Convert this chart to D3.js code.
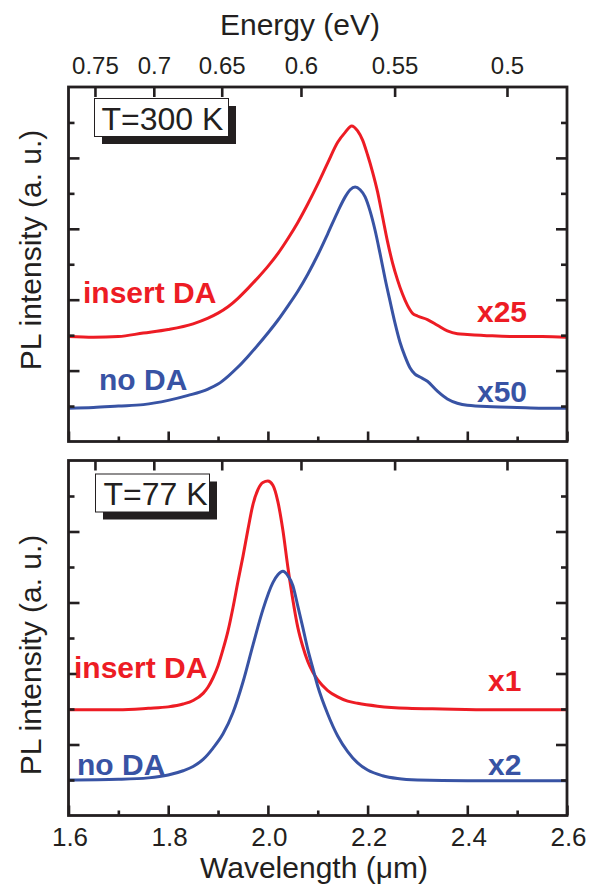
<!DOCTYPE html>
<html>
<head>
<meta charset="utf-8">
<script src="https://cdn.jsdelivr.net/npm/d3@7"></script>
<style>
  html, body { margin: 0; padding: 0; background: #fff; }
  svg { display: block; }
  text { font-family: "Liberation Sans", Arial, Helvetica, sans-serif; fill: #231f20; }
</style>
</head>
<body>
<svg id="chart" width="596" height="886"></svg>
<script>
// ---------------- DATA ----------------
// Wavelength ticks (µm)
const wavelengthMajor = [1.6, 1.8, 2.0, 2.2, 2.4, 2.6];
const wavelengthMinor = [1.7, 1.9, 2.1, 2.3, 2.5];
// Energy ticks (eV) on the top axis
const energyTicks = [0.75, 0.7, 0.65, 0.6, 0.55, 0.5];
const energyLabels = ["0.75", "0.7", "0.65", "0.6", "0.55", "0.5"];
// Intensity ticks (a. u.)
const intensityMajor = [1, 2, 3, 4];
const intensityMinor = [0.5, 1.5, 2.5, 3.5, 4.5];

// T = 300 K, insert DA (x25)
const rtInsertWl = [1.60,1.65,1.70,1.75,1.80,1.85,1.88,1.90,1.92,1.94,1.96,1.98,2.00,2.02,2.04,2.06,2.08,2.10,2.12,2.14,2.155,2.168,2.18,2.19,2.20,2.21,2.22,2.23,2.24,2.25,2.26,2.27,2.28,2.29,2.30,2.32,2.34,2.36,2.38,2.40,2.45,2.50,2.55,2.60];
const rtInsertPL = [1.48,1.47,1.48,1.53,1.58,1.66,1.74,1.81,1.90,2.02,2.16,2.31,2.47,2.65,2.86,3.09,3.35,3.63,3.93,4.22,4.36,4.45,4.38,4.25,4.04,3.80,3.52,3.17,2.82,2.52,2.28,2.08,1.92,1.81,1.77,1.72,1.64,1.56,1.52,1.51,1.49,1.48,1.48,1.47];
// T = 300 K, no DA (x50)
const rtNoWl = [1.60,1.65,1.70,1.75,1.80,1.84,1.88,1.90,1.92,1.94,1.96,1.98,2.00,2.02,2.04,2.06,2.08,2.10,2.12,2.14,2.155,2.165,2.175,2.185,2.195,2.205,2.215,2.225,2.235,2.245,2.255,2.265,2.275,2.285,2.295,2.305,2.32,2.34,2.36,2.38,2.40,2.45,2.50,2.55,2.60];
const rtNoPL = [0.47,0.48,0.50,0.52,0.58,0.65,0.74,0.81,0.92,1.05,1.20,1.36,1.53,1.71,1.91,2.12,2.36,2.63,2.93,3.24,3.45,3.55,3.59,3.55,3.45,3.25,2.98,2.65,2.30,1.98,1.67,1.40,1.20,1.04,0.95,0.91,0.85,0.71,0.60,0.54,0.51,0.49,0.48,0.47,0.47];

// T = 77 K, insert DA (x1)
const ltInsertWl = [1.60,1.70,1.76,1.80,1.83,1.85,1.87,1.88,1.89,1.90,1.91,1.92,1.93,1.94,1.95,1.96,1.97,1.98,1.99,2.00,2.01,2.02,2.03,2.04,2.05,2.06,2.07,2.08,2.09,2.10,2.12,2.14,2.16,2.18,2.22,2.28,2.35,2.45,2.60];
const ltInsertPL = [1.49,1.49,1.51,1.53,1.57,1.62,1.72,1.81,1.94,2.11,2.34,2.60,2.93,3.30,3.65,4.03,4.38,4.59,4.69,4.71,4.65,4.42,4.02,3.50,3.04,2.65,2.38,2.17,2.02,1.91,1.76,1.67,1.61,1.58,1.54,1.51,1.50,1.49,1.49];
// T = 77 K, no DA (x2)
const ltNoWl = [1.60,1.70,1.76,1.80,1.83,1.85,1.87,1.89,1.91,1.93,1.95,1.97,1.99,2.01,2.02,2.03,2.04,2.05,2.06,2.07,2.08,2.09,2.10,2.12,2.14,2.16,2.18,2.20,2.23,2.26,2.30,2.40,2.60];
const ltNoPL = [0.50,0.51,0.53,0.57,0.63,0.69,0.79,0.95,1.15,1.45,1.88,2.40,2.90,3.28,3.39,3.44,3.38,3.24,2.95,2.65,2.34,2.08,1.82,1.43,1.12,0.90,0.74,0.64,0.56,0.52,0.50,0.49,0.49];

// ---------------- DRAW ----------------
const RED = "#ed1c24", BLUE = "#3853a4", INK = "#231f20";
const svg = d3.select("#chart");
const x = d3.scaleLinear().domain([1.6, 2.6]).range([68.5, 567]);
const HC = 1.2398; // eV·µm

const panels = [
  { top: 87, bottom: 441.5, temp: "T=300 K", energyLabels: true, wlLabels: false,
    box: {x: 94.5, y: 98.5, w: 134, h: 38, tx: 101.5, ty: 130},
    ylabelY: 250,
    series: [
      { wl: rtInsertWl, pl: rtInsertPL, color: RED, name: "insert DA", nx: 83, ny: 303, factor: "x25", fx: 477, fy: 322 },
      { wl: rtNoWl, pl: rtNoPL, color: BLUE, name: "no DA", nx: 99, ny: 390, factor: "x50", fx: 477, fy: 402 }
    ]},
  { top: 460.5, bottom: 815.5, temp: "T=77 K", energyLabels: false, wlLabels: true,
    box: {x: 95.5, y: 474, w: 114, h: 38, tx: 103.5, ty: 505},
    ylabelY: 655,
    series: [
      { wl: ltInsertWl, pl: ltInsertPL, color: RED, name: "insert DA", nx: 74, ny: 678, factor: "x1", fx: 488, fy: 691 },
      { wl: ltNoWl, pl: ltNoPL, color: BLUE, name: "no DA", nx: 77, ny: 775, factor: "x2", fx: 488, fy: 775 }
    ]}
];

function styleAxis(g) {
  g.select(".domain").remove();
  g.selectAll(".tick line").attr("stroke", INK).attr("stroke-width", 2.6);
}

panels.forEach(p => {
  const y = d3.scaleLinear().domain([0, 5]).range([p.bottom, p.top]);
  const g = svg.append("g");

  // curves
  const line = d3.line().x(d => x(d[0])).y(d => y(d[1])).curve(d3.curveMonotoneX);
  p.series.forEach(s => {
    g.append("path")
      .datum(s.wl.map((w, i) => [w, s.pl[i]]))
      .attr("fill", "none").attr("stroke", s.color).attr("stroke-width", 3)
      .attr("stroke-linejoin", "round")
      .attr("d", line);
  });

  // bottom wavelength ticks
  const bMaj = g.append("g").attr("transform", `translate(0,${p.bottom})`)
    .call(d3.axisBottom(x).tickValues(wavelengthMajor).tickSize(-10)
      .tickFormat(p.wlLabels ? d3.format(".1f") : () => ""));
  styleAxis(bMaj);
  bMaj.selectAll("text").attr("y", 30).attr("dy", 0).attr("x", 1)
    .style("font-size", "26px").style("fill", INK);
  const bMin = g.append("g").attr("transform", `translate(0,${p.bottom})`)
    .call(d3.axisBottom(x).tickValues(wavelengthMinor).tickSize(-5).tickFormat(() => ""));
  styleAxis(bMin);

  // top energy ticks
  const tAx = g.append("g").attr("transform", `translate(0,${p.top})`)
    .call(d3.axisTop(x).tickValues(energyTicks.map(e => HC / e)).tickSize(-10)
      .tickFormat((d, i) => p.energyLabels ? energyLabels[i] : ""));
  styleAxis(tAx);
  tAx.selectAll("text").attr("y", -13).attr("dy", 0)
    .style("font-size", "24px").style("fill", INK);

  // left / right intensity ticks
  [[d3.axisLeft, x.range()[0], -11, -6], [d3.axisRight, x.range()[1], -11, -6]].forEach(([ax, pos, maj, min]) => {
    const a1 = g.append("g").attr("transform", `translate(${pos},0)`)
      .call(ax(y).tickValues(intensityMajor).tickSize(maj).tickFormat(() => ""));
    styleAxis(a1);
    const a2 = g.append("g").attr("transform", `translate(${pos},0)`)
      .call(ax(y).tickValues(intensityMinor).tickSize(min).tickFormat(() => ""));
    styleAxis(a2);
  });

  // frame
  g.append("rect").attr("x", x.range()[0]).attr("y", p.top)
    .attr("width", x.range()[1] - x.range()[0]).attr("height", p.bottom - p.top)
    .attr("fill", "none").attr("stroke", INK).attr("stroke-width", 2.8);

  // temperature box with shadow
  g.append("rect").attr("x", p.box.x + 7.5).attr("y", p.box.y + 7.5)
    .attr("width", p.box.w).attr("height", p.box.h).attr("fill", INK);
  g.append("rect").attr("x", p.box.x).attr("y", p.box.y)
    .attr("width", p.box.w).attr("height", p.box.h).attr("fill", "#fff")
    .attr("stroke", INK).attr("stroke-width", 1);
  g.append("text").attr("x", p.box.tx).attr("y", p.box.ty)
    .style("font-size", "32px").text(p.temp);

  // series labels
  p.series.forEach(s => {
    g.append("text").attr("x", s.nx).attr("y", s.ny)
      .style("font-size", "30px").style("font-weight", "bold").style("fill", s.color).text(s.name);
    g.append("text").attr("x", s.fx).attr("y", s.fy)
      .style("font-size", "30px").style("font-weight", "bold").style("fill", s.color).text(s.factor);
  });

  // y label
  svg.append("text")
    .attr("transform", `translate(41,${p.ylabelY}) rotate(-90)`)
    .attr("text-anchor", "middle")
    .style("font-size", "30px").text("PL intensity (a. u.)");
});

// axis titles
svg.append("text").attr("x", 300).attr("y", 35).attr("text-anchor", "middle")
  .style("font-size", "30px").text("Energy (eV)");
const wt = svg.append("text").attr("x", 314).attr("y", 878).attr("text-anchor", "middle")
  .style("font-size", "30px");
wt.append("tspan").text("Wavelength (");
wt.append("tspan").text("\u03bc");
wt.append("tspan").text("m)");
</script>
</body>
</html>
